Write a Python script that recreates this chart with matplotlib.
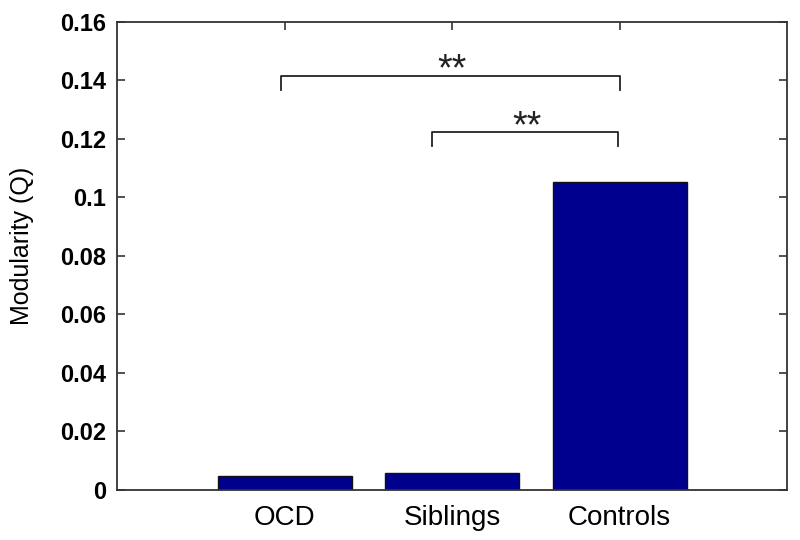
import matplotlib
matplotlib.use("Agg")
import matplotlib.pyplot as plt

categories = ["OCD", "Siblings", "Controls"]
modularity = [0.0048, 0.0058, 0.1054]
yticks = [0, 0.02, 0.04, 0.06, 0.08, 0.1, 0.12, 0.14, 0.16]
ytick_labels = ["0", "0.02", "0.04", "0.06", "0.08", "0.1", "0.12", "0.14", "0.16"]

# significance brackets: (x_start, x_end, y_line, y_tick_bottom, star_x, star_y)
brackets = [
    (0.98, 3.0, 0.1414, 0.1368, 2.0, 0.1402),
    (1.88, 2.99, 0.1224, 0.1177, 2.45, 0.1207),
]
star_text = "**"

plt.rcParams['font.family'] = ['Liberation Sans', 'DejaVu Sans']

fig = plt.figure(figsize=(8, 5.4), dpi=100)
ax = fig.add_axes([0.14625, 0.0926, 0.8375, 0.8667])

x = list(range(1, len(categories) + 1))
ax.bar(x, modularity, width=0.8, color='#00008F', edgecolor='#111111', linewidth=1.0, zorder=2)

for (x0, x1, yl, yb, sx, sy) in brackets:
    ax.plot([x0, x0, x1, x1], [yb, yl, yl, yb], color='#222222', lw=1.3, zorder=3)
    ax.text(sx, sy, star_text, ha='center', va='baseline', fontsize=27, color='#222222')

ax.set_xlim(0, 4)
ax.set_ylim(0, 0.16)
ax.set_xticks(x)
ax.set_xticklabels(categories, fontsize=20)
ax.set_yticks(yticks)
ax.set_yticklabels(ytick_labels, fontsize=17, fontweight='bold')
ax.set_ylabel("Modularity (Q)", fontsize=18)
ax.yaxis.set_label_coords(-0.124, 0.521)

ax.tick_params(axis='both', direction='in', length=6, width=1.2, color='#333333',
               top=True, right=True)
ax.tick_params(axis='x', pad=11)
ax.tick_params(axis='y', pad=8)
for s in ax.spines.values():
    s.set_linewidth(1.3)
    s.set_color('#333333')

fig.savefig("out.png", dpi=100)
